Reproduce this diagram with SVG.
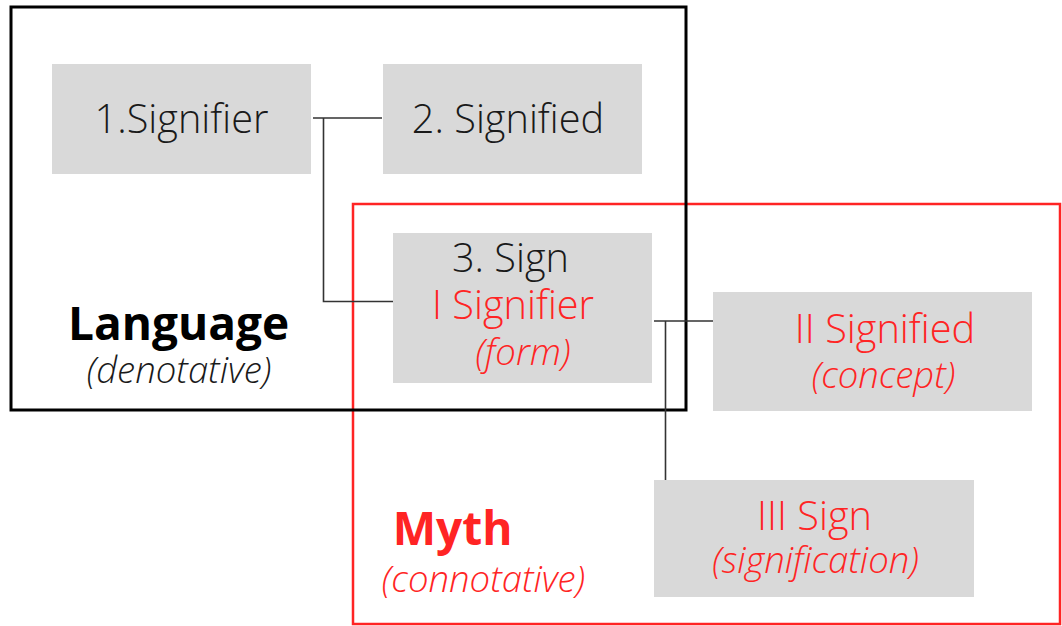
<svg xmlns="http://www.w3.org/2000/svg" width="1062" height="626" viewBox="0 0 1062 626">
<style>
.box{fill:#d9d9d9;}
.t{font-family:"Open Sans","Liberation Sans",sans-serif;font-weight:300;font-size:39.7px;text-anchor:middle;fill:#1a1a1a;}
.r{fill:#ff2424;}
.i{font-style:italic;font-size:36.5px;}
.b{font-family:"Open Sans","Liberation Sans",sans-serif;font-weight:700;font-size:46px;text-anchor:middle;}
.con{fill:none;stroke:#333;stroke-width:1.6;}
</style>
<rect width="1062" height="626" fill="#fff"/>
<g id="myth-frame"><rect x="353" y="204" width="707" height="420" fill="none" stroke="#ff2424" stroke-width="2.5"/></g>
<g id="language-frame"><rect x="11" y="7" width="675" height="403" fill="none" stroke="#000" stroke-width="3"/></g>
<g id="connectors">
<path class="con" d="M313 118H382M323.5 118V301.5H393"/>
<path class="con" d="M654 321H714M665.5 321V480"/>
</g>
<g id="signifier1"><rect class="box" x="52" y="64" width="259" height="110"/><text class="t" x="181.5" y="133">1.Signifier</text></g>
<g id="signified2"><rect class="box" x="383" y="64" width="259" height="110"/><text class="t" x="508" y="133">2. Signified</text></g>
<g id="sign3"><rect class="box" x="393" y="233" width="259" height="150"/>
<text class="t" x="510.5" y="272">3. Sign</text>
<text class="t r" x="513" y="319">I Signifier</text>
<text class="t r i" x="523" y="365">(form)</text></g>
<g id="signified2b"><rect class="box" x="713" y="292" width="319" height="119"/>
<text class="t r" x="885" y="343">II Signified</text>
<text class="t r i" x="883.5" y="388">(concept)</text></g>
<g id="sign3b"><rect class="box" x="654" y="480" width="320" height="117"/>
<text class="t r" x="814.5" y="530">III Sign</text>
<text class="t r i" x="815.5" y="573">(signification)</text></g>
<g id="language"><text class="b" x="178.5" y="340" fill="#000">Language</text><text class="t i" x="179" y="383">(denotative)</text></g>
<g id="myth"><text class="b" x="452.5" y="545" fill="#ff2424">Myth</text><text class="t r i" x="483.5" y="592">(connotative)</text></g>
</svg>
